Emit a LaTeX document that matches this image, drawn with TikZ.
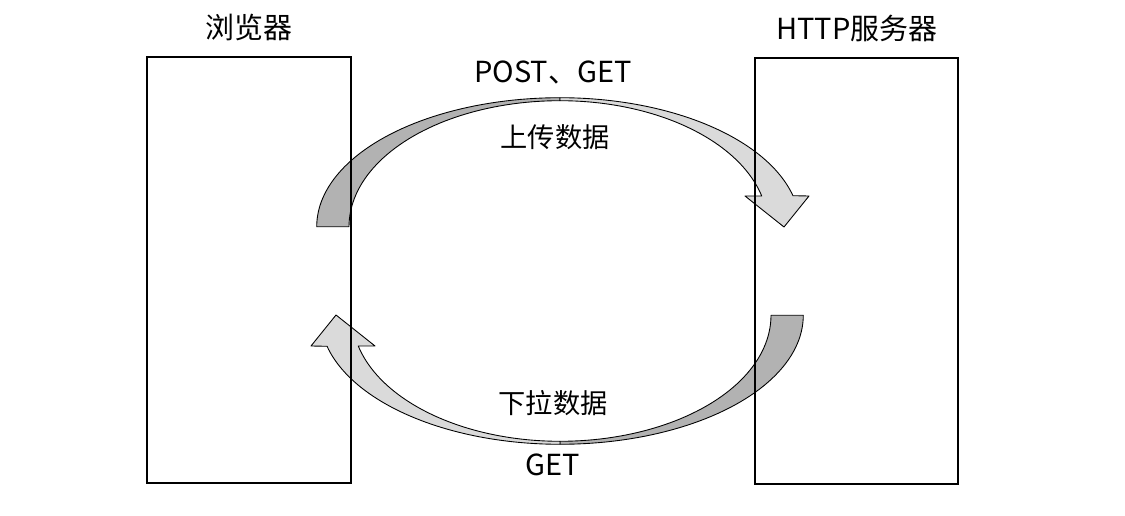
\documentclass[tikz,border=0pt]{standalone}
\usepackage{fontspec}
\setmainfont{Noto Sans CJK SC}
\definecolor{backgray}{HTML}{B2B2B2}
\definecolor{frontgray}{HTML}{DADADA}
\tikzset{
  titletext/.style={font=\fontsize{16.5}{20}\selectfont, inner sep=0pt},
  arrowtext/.style={font=\fontsize{15.5}{19}\selectfont, inner sep=0pt},
  methodtext/.style={font=\fontsize{16.5}{20}\selectfont, inner sep=0pt},
  box/.style={line width=1.1pt},
  arrowbody/.style={draw=black, line width=0.5pt, line join=round}
}
\begin{document}
\begin{tikzpicture}[x=0.02cm,y=-0.02cm]
	\useasboundingbox (0,0) rectangle (1125,516);

	% Curved arrows, the lower one is the upper one turned round
	\foreach \ang in {0,180}{
	\begin{scope}[rotate around={\ang:(560,271)}]
		% back half (tail)
		\filldraw[arrowbody, fill=backgray]
			plot[domain=180:90, samples=50] ({560+243.3*cos(\x)},{226.7-129*sin(\x)})
			-- plot[domain=90:180, samples=50] ({560+211*cos(\x)},{226.7-126*sin(\x)})
			-- cycle;
		% front half (head)
		\filldraw[arrowbody, fill=frontgray]
			plot[domain=90:13.9, samples=50] ({560+240*cos(\x)},{226.7-129*sin(\x)})
			-- (809,196) -- (784,227) -- (745,196)
			-- plot[domain=14.1:90, samples=50] ({560+208*cos(\x)},{226.7-126*sin(\x)})
			-- cycle;
	\end{scope}
	}

	% Browser
	\draw[box] (147,57) rectangle (351,483);
	\node[titletext] (browser) at (249,28) {浏览器};

	% Server
	\draw[box] (755,58) rectangle (958,484);
	\node[titletext] (server) at (857,28) {HTTP服务器};

	% Labels
	\node[methodtext] (upmethod) at (553,73) {POST、GET};
	\node[arrowtext] (uptext) at (555,137) {上传数据};
	\node[arrowtext] (downtext) at (553,403) {下拉数据};
	\node[methodtext] (downmethod) at (553,465) {GET};
\end{tikzpicture}
\end{document}
